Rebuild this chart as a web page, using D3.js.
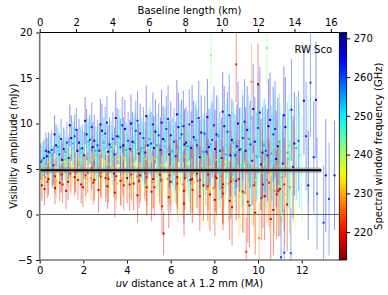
<!DOCTYPE html>
<html>
<head>
<meta charset="utf-8">
<script src="https://cdn.jsdelivr.net/npm/d3@7"></script>
<style>
  body { margin: 0; background: #fff; }
  svg text { font-family: "DejaVu Sans", sans-serif; }
</style>
</head>
<body>
<svg id="chart" width="388" height="295"></svg>
<script>
// spectral windows (GHz) and their visibilities: [uv distance (Mlambda), amplitude (mJy), 1-sigma error]
const spwFreqs = [216, 218, 221, 228, 231, 234, 243, 246, 249, 253, 260, 262, 265, 267]

const spw216 = [[0.1,3.2,1.7],[0.4,3.9,1.8],[0.7,2.9,1.8],[1.0,4.4,1.9],[1.3,3.6,2.0],[1.6,4.1,2.0],[1.9,3.3,2.1],[2.2,4.6,2.2],[2.5,3.8,2.3],[2.8,4.2,2.4],[3.1,3.1,2.5],[3.4,4.5,2.6],[3.7,3.7,2.7],[4.0,4.0,2.8],[4.3,3.4,2.9],[4.6,4.3,3.0],[4.9,3.0,3.1],[5.2,3.9,3.2],[5.5,4.4,3.3],[5.67,-2.1,2.4],[6.0,3.6,3.4],[6.3,4.1,3.5],[6.6,2.6,3.6],[6.9,3.8,3.7],[7.2,4.5,3.8],[7.5,3.2,3.9],[7.8,2.2,4.0],[8.1,4.0,4.1],[8.4,3.3,4.2],[8.7,1.5,4.3],[9.0,3.7,4.4],[9.3,2.5,4.5],[9.6,1.0,4.6],[10.0,14.3,4.5],[10.3,2.0,4.8],[10.7,0.5,5.0],[11.0,2.8,5.2]]
const spw218 = [[0.22,2.8,1.8],[0.58,4.9,1.9],[0.92,3.5,2.0],[1.21,2.6,2.0],[1.63,4.7,2.2],[1.98,3.0,2.2],[2.37,5.1,2.4],[2.69,2.7,2.5],[3.02,4.0,2.6],[3.44,2.4,2.7],[3.81,4.9,2.8],[4.12,3.3,2.9],[4.48,2.1,3.0],[4.83,4.6,3.1],[5.12,2.5,3.2],[5.58,3.8,3.3],[5.91,1.9,3.4],[6.28,4.7,3.5],[6.61,1.2,3.6],[6.98,3.9,3.7],[7.33,2.0,3.8],[7.71,4.4,3.9],[8.02,1.6,4.0],[8.38,3.0,4.1],[8.81,0.8,4.2],[9.12,3.9,4.3],[9.53,1.4,4.5],[9.87,0.2,4.6],[10.22,3.3,4.8],[10.58,-0.5,4.9],[10.93,2.6,5.0],[11.33,1.1,5.2]]
const spw221 = [[0.35,3.6,1.8],[0.7,4.2,1.9],[1.05,3.3,2.0],[1.4,4.5,2.1],[1.75,3.8,2.2],[2.1,4.3,2.3],[2.45,3.5,2.4],[2.8,4.6,2.5],[3.15,3.9,2.6],[3.5,4.2,2.7],[3.85,3.2,2.8],[4.2,4.4,2.9],[4.55,3.7,3.0],[4.9,4.1,3.1],[5.25,3.0,3.2],[5.6,0.9,3.0],[5.95,4.3,3.3],[6.3,3.4,3.4],[6.65,4.0,3.5],[7.0,2.7,3.6],[7.35,3.8,3.7],[7.7,3.1,3.8],[8.05,4.2,3.9],[8.4,2.3,4.0],[8.75,3.6,4.1],[9.0,16.5,4.2],[9.46,-4.1,3.8],[9.8,3.2,4.5],[10.15,1.8,4.6],[10.5,3.5,4.8],[10.85,2.2,4.9],[11.2,3.3,5.1]]
const spw228 = [[0.25,4.1,1.8],[0.6,4.8,1.9],[0.95,4.3,2.0],[1.3,5.2,2.1],[1.65,4.5,2.2],[2.0,5.0,2.3],[2.35,4.0,2.4],[2.7,4.9,2.5],[3.05,4.4,2.6],[3.4,5.3,2.7],[3.75,3.8,2.8],[4.1,4.7,2.9],[4.45,4.2,3.0],[4.8,5.1,3.1],[5.15,3.6,3.2],[5.5,4.6,3.3],[5.85,3.9,3.4],[6.2,4.8,3.5],[6.55,3.3,3.6],[6.9,4.4,3.7],[7.25,3.7,3.8],[7.6,4.9,3.9],[7.95,2.9,4.0],[8.3,4.2,4.1],[8.65,3.4,4.2],[9.0,4.7,4.3],[9.35,2.4,4.4],[9.7,14.6,4.2],[10.05,-2.6,4.0],[10.4,3.8,4.7],[10.75,2.6,4.8],[11.1,4.1,5.0],[11.45,3.0,5.2]]
const spw231 = [[0.08,4.0,1.8],[0.41,5.8,1.9],[0.77,3.7,2.0],[1.12,6.0,2.1],[1.44,4.2,2.2],[1.82,5.6,2.3],[2.12,3.9,2.4],[2.48,6.2,2.5],[2.83,4.3,2.6],[3.18,5.5,2.7],[3.53,3.4,2.8],[3.88,6.0,2.9],[4.23,4.0,3.0],[4.58,5.6,3.1],[4.93,3.2,3.2],[5.28,6.1,3.3],[5.63,3.8,3.4],[5.98,5.2,3.5],[6.33,2.8,3.6],[6.68,6.3,3.7],[7.03,3.5,3.8],[7.38,5.4,3.9],[7.73,2.5,4.0],[8.08,6.0,4.1],[8.43,3.1,4.2],[8.78,4.9,4.3],[9.13,2.0,4.4],[9.48,5.7,4.6],[9.83,1.5,4.7],[10.18,4.6,4.8],[10.53,2.9,5.0],[10.88,5.3,5.1],[11.23,2.2,5.3],[11.62,4.7,5.5]]
const spw234 = [[0.1,4.6,1.8],[0.45,5.4,1.9],[0.8,4.9,2.0],[1.15,5.8,2.1],[1.5,5.1,2.2],[1.85,6.0,2.4],[2.2,5.3,2.5],[2.55,4.7,2.6],[2.9,5.7,2.7],[3.25,5.0,2.8],[3.6,6.1,2.9],[3.95,4.5,3.0],[4.3,5.5,3.1],[4.65,4.9,3.2],[5.0,5.9,3.3],[5.35,4.3,3.4],[5.7,5.4,3.5],[6.05,4.8,3.6],[6.4,3.9,3.7],[6.75,5.6,3.8],[7.1,4.6,3.9],[7.45,2.8,4.0],[7.8,5.2,4.1],[8.15,3.6,4.2],[8.5,5.8,4.3],[8.85,4.1,4.4],[9.2,2.9,4.5],[9.55,5.0,4.7],[9.9,3.8,4.8],[10.25,5.5,4.9],[10.6,4.4,5.1],[10.95,3.1,5.2],[11.3,4.8,5.4],[11.7,3.9,5.6]]
const spw243 = [[0.3,5.3,1.9],[0.65,6.2,2.0],[1.0,5.7,2.1],[1.35,6.6,2.3],[1.7,5.9,2.4],[2.05,7.4,2.5],[2.4,6.0,2.6],[2.75,6.8,2.7],[3.1,5.5,2.8],[3.45,7.5,2.9],[3.8,6.3,3.0],[4.15,5.0,3.1],[4.5,6.9,3.2],[4.85,6.1,3.3],[5.2,7.6,3.4],[5.55,5.4,3.5],[5.9,6.7,3.6],[6.25,4.6,3.7],[6.6,7.3,3.8],[6.95,3.0,3.9],[7.3,6.4,4.0],[7.65,5.2,4.1],[7.85,17.5,3.2],[8.3,6.0,4.3],[8.65,4.3,4.4],[9.0,7.1,4.5],[9.35,5.6,4.6],[9.7,3.5,4.8],[10.05,6.8,4.9],[10.4,18.3,4.0],[10.75,7.4,5.2],[11.1,5.3,5.4],[11.5,6.4,5.6],[12.0,5.0,5.8]]
const spw246 = [[0.18,6.6,1.9],[0.53,5.2,2.0],[0.88,7.8,2.1],[1.23,5.6,2.2],[1.58,8.1,2.3],[1.93,5.9,2.4],[2.28,8.4,2.6],[2.63,5.7,2.7],[2.98,8.0,2.8],[3.33,6.1,2.9],[3.68,8.7,3.0],[4.03,5.8,3.1],[4.38,8.3,3.2],[4.73,6.4,3.3],[5.08,9.0,3.4],[5.43,5.5,3.5],[5.78,8.2,3.6],[6.13,6.0,3.7],[6.48,8.9,3.8],[6.83,5.3,3.9],[7.18,8.6,4.0],[7.53,6.2,4.1],[7.88,9.2,4.2],[8.23,4.9,4.3],[8.58,8.4,4.4],[8.93,5.7,4.5],[9.28,9.0,4.7],[9.63,5.0,4.8],[9.98,8.1,4.9],[10.33,5.8,5.1],[10.68,8.9,5.2],[11.03,4.6,5.3],[11.42,7.6,5.5]]
const spw249 = [[0.15,5.6,1.9],[0.5,6.4,2.0],[0.85,7.0,2.1],[1.2,6.1,2.2],[1.55,7.3,2.3],[1.9,6.8,2.5],[2.25,7.6,2.6],[2.6,6.5,2.7],[2.95,7.2,2.8],[3.3,6.9,2.9],[3.65,7.8,3.0],[4.0,6.6,3.1],[4.35,7.4,3.2],[4.7,6.9,3.3],[5.05,7.7,3.4],[5.4,6.3,3.5],[5.75,7.5,3.6],[6.1,6.8,3.7],[6.45,7.2,3.8],[6.8,6.0,3.9],[7.15,7.9,4.0],[7.5,6.4,4.1],[7.85,7.1,4.2],[8.2,5.8,4.3],[8.55,7.6,4.4],[8.9,6.7,4.5],[9.25,5.4,4.6],[9.6,7.3,4.7],[9.95,6.2,4.9],[10.3,7.8,5.0],[10.65,5.9,5.1],[11.0,6.9,5.3],[11.4,6.1,5.5],[11.9,6.5,5.7],[12.3,7.2,5.9]]
const spw253 = [[0.12,6.0,2.0],[0.47,6.8,2.1],[0.82,7.4,2.2],[1.17,6.9,2.3],[1.52,7.8,2.4],[1.87,7.2,2.5],[2.22,8.0,2.6],[2.57,7.0,2.7],[2.92,7.9,2.8],[3.27,7.4,2.9],[3.62,8.5,3.0],[3.97,7.1,3.1],[4.32,7.9,3.2],[4.67,7.3,3.3],[5.02,8.3,3.4],[5.37,7.6,3.5],[5.72,8.1,3.6],[6.07,7.0,3.7],[6.42,8.4,3.8],[6.77,7.5,3.9],[7.12,8.2,4.0],[7.47,6.9,4.1],[7.82,7.7,4.2],[8.17,8.6,4.3],[8.52,6.6,4.4],[8.87,7.9,4.5],[9.22,7.2,4.6],[9.57,8.3,4.8],[9.92,6.4,4.9],[10.27,7.6,5.0],[10.62,6.7,5.2],[10.97,8.0,5.3],[11.35,6.8,5.5],[11.75,7.3,5.7]]
const spw260 = [[0.2,6.2,2.0],[0.55,7.1,2.1],[0.9,6.6,2.2],[1.25,7.9,2.3],[1.6,8.6,2.4],[1.95,7.3,2.6],[2.3,8.2,2.7],[2.65,7.6,2.8],[3.0,8.9,2.9],[3.35,8.3,3.0],[3.7,7.4,3.1],[4.05,8.1,3.2],[4.4,9.2,3.3],[4.75,8.4,3.4],[5.1,7.8,3.5],[5.45,8.7,3.5],[5.8,9.4,3.6],[6.15,8.0,3.7],[6.5,8.8,3.8],[6.85,9.9,3.9],[7.2,7.6,4.0],[7.55,8.9,4.1],[7.9,8.2,4.2],[8.25,7.0,4.3],[8.6,9.1,4.4],[8.95,6.5,4.5],[9.3,8.4,4.7],[9.65,7.7,4.8],[10.0,9.5,5.0],[10.35,7.0,5.1],[10.7,8.8,5.2],[11.05,-4.7,4.5],[11.2,-4.2,4.8],[11.5,-4.25,5.0],[11.85,8.1,5.5],[12.4,14.5,6.0],[12.7,2.3,6.2],[13.0,-0.9,6.3],[13.25,1.7,6.2]]
const spw262 = [[0.28,7.0,2.0],[0.63,5.4,2.1],[0.98,8.3,2.2],[1.33,6.2,2.3],[1.68,9.3,2.4],[2.03,6.5,2.6],[2.38,9.6,2.7],[2.73,7.0,2.8],[3.08,10.1,2.9],[3.43,6.6,3.0],[3.78,9.8,3.1],[4.13,7.2,3.2],[4.48,10.3,3.3],[4.83,6.8,3.4],[5.18,9.9,3.5],[5.53,7.1,3.6],[5.88,10.5,3.7],[6.23,6.4,3.8],[6.58,9.7,3.9],[6.93,7.3,4.0],[7.28,10.6,4.1],[7.63,6.9,4.2],[7.98,9.8,4.3],[8.33,6.2,4.4],[8.68,10.9,4.5],[9.03,7.5,4.6],[9.38,10.2,4.7],[9.73,5.9,4.9],[10.08,11.2,5.0],[10.43,6.5,5.1],[10.78,9.4,5.3],[11.13,5.6,5.4],[11.53,11.5,5.6],[12.2,8.6,6.0],[12.55,6.3,6.2]]
const spw265 = [[0.05,5.8,2.0],[0.4,6.9,2.1],[0.75,7.6,2.3],[1.1,7.2,2.4],[1.45,8.4,2.5],[1.8,7.9,2.6],[2.15,8.8,2.8],[2.5,8.1,2.9],[2.85,9.2,3.0],[3.2,7.7,3.0],[3.55,8.6,3.1],[3.9,9.4,3.2],[4.25,8.0,3.3],[4.6,8.9,3.3],[4.95,7.6,3.4],[5.3,9.1,3.5],[5.65,8.3,3.6],[6.0,8.7,3.7],[6.35,9.6,3.8],[6.7,7.9,3.9],[7.05,8.5,4.0],[7.4,9.0,4.1],[7.75,7.4,4.2],[8.1,8.8,4.3],[8.45,9.7,4.4],[8.8,8.2,4.5],[9.15,7.1,4.6],[9.5,9.3,4.8],[9.85,8.0,4.9],[10.2,6.8,5.0],[10.55,10.4,5.2],[10.9,7.5,5.3],[11.25,9.6,5.5],[11.6,5.2,5.6],[12.1,12.5,6.0],[12.65,12.6,6.4],[13.1,4.3,6.2],[13.5,4.3,6.0]]
const spw267 = [[0.33,6.4,2.0],[0.68,8.8,2.1],[1.03,6.0,2.2],[1.38,9.8,2.3],[1.73,7.0,2.4],[2.08,10.3,2.6],[2.43,7.4,2.7],[2.78,9.9,2.8],[3.13,6.9,2.9],[3.48,10.6,3.0],[3.83,7.6,3.1],[4.18,10.0,3.2],[4.53,6.7,3.3],[4.88,10.8,3.4],[5.23,7.3,3.5],[5.58,10.1,3.6],[5.93,6.6,3.7],[6.28,11.0,3.8],[6.63,7.7,3.9],[6.98,10.2,4.0],[7.33,6.3,4.1],[7.68,10.7,4.2],[8.03,7.2,4.3],[8.38,11.3,4.4],[8.73,6.5,4.5],[9.08,10.0,4.6],[9.43,7.0,4.8],[9.78,11.6,4.9],[10.13,5.5,5.0],[10.48,9.7,5.2],[10.83,6.1,5.3],[11.18,10.9,5.4],[11.66,7.8,5.7],[12.3,3.2,6.0]]

const spwData = [spw216, spw218, spw221, spw228, spw231, spw234, spw243, spw246, spw249, spw253, spw260, spw262, spw265, spw267]

// fitted point-source model: amplitude and its band, drawn over uv range
const modelUv = [0, 12.9]
const modelAmp = 4.86
const modelBand = [4.55, 5.17]

const yTicks = [-5, 0, 5, 10, 15, 20]
const xTicks = [0, 2, 4, 6, 8, 10, 12]
const kmTicks = [0, 2, 4, 6, 8, 10, 12, 14, 16]
const cbTicks = [220, 230, 240, 250, 260, 270]
const lambdaMm = 1.2

const svg = d3.select("#chart")
const mLeft = 39.7, mRight = 339.3, mTop = 32.5, mBottom = 260

const x = d3.scaleLinear().domain([0, 13.72]).range([mLeft, mRight])
const y = d3.scaleLinear().domain([-5, 20]).range([mBottom, mTop])
const xKm = d3.scaleLinear().domain([0, 13.72 * lambdaMm]).range([mLeft, mRight])

// matplotlib jet, reversed
function jet (t) {
  const c = v => Math.max(0, Math.min(1, v))
  return d3.rgb(255 * c(1.5 - Math.abs(4 * t - 3)), 255 * c(1.5 - Math.abs(4 * t - 2)), 255 * c(1.5 - Math.abs(4 * t - 1)))
}
const colour = d3.scaleSequential(t => jet(1 - t)).domain([212.8, 271.5])

const plot = svg.append("g")

// zero line
plot.append("line")
  .attr("x1", mLeft).attr("x2", mRight)
  .attr("y1", y(0)).attr("y2", y(0))
  .style("stroke", "#555").style("stroke-width", 0.9)

// error bars
spwData.forEach((pts, i) => {
  plot.append("g").selectAll("line")
    .data(pts)
    .enter().append("line")
    .attr("x1", d => x(d[0])).attr("x2", d => x(d[0]))
    .attr("y1", d => y(Math.max(-5, d[1] - d[2]))).attr("y2", d => y(Math.min(20, d[1] + d[2])))
    .style("stroke", colour(spwFreqs[i]))
    .style("stroke-opacity", 0.4)
    .style("stroke-width", 1.1)
})

// points
spwData.forEach((pts, i) => {
  plot.append("g").selectAll("rect")
    .data(pts)
    .enter().append("rect")
    .attr("x", d => x(d[0]) - 1).attr("y", d => y(d[1]) - 1)
    .attr("width", 2).attr("height", 2)
    .style("fill", colour(spwFreqs[i]))
})

// model
plot.append("rect")
  .attr("x", x(modelUv[0])).attr("width", x(modelUv[1]) - x(modelUv[0]))
  .attr("y", y(modelBand[1])).attr("height", y(modelBand[0]) - y(modelBand[1]))
  .style("fill", "#999").style("fill-opacity", 0.6)
plot.append("line")
  .attr("x1", x(modelUv[0])).attr("x2", x(modelUv[1]))
  .attr("y1", y(modelAmp)).attr("y2", y(modelAmp))
  .style("stroke", "black").style("stroke-width", 2)

// axes
const axisStyle = g => {
  g.selectAll("text").style("font-size", "10px").style("font-family", "DejaVu Sans").attr("fill", "#000")
  g.selectAll("line").style("stroke", "#000")
  g.select(".domain").remove()
}
svg.append("g").attr("transform", `translate(0,${mBottom})`)
  .call(d3.axisBottom(x).tickValues(xTicks).tickSize(3.5).tickPadding(3.5).tickFormat(d3.format("d")))
  .call(axisStyle)
svg.append("g").attr("transform", `translate(${mLeft},0)`)
  .call(d3.axisLeft(y).tickValues(yTicks).tickSize(3.5).tickPadding(3.5).tickFormat(d => d < 0 ? "\u2212" + Math.abs(d) : d))
  .call(axisStyle)
svg.append("g").attr("transform", `translate(0,${mTop})`)
  .call(d3.axisTop(xKm).tickValues(kmTicks).tickSize(3.5).tickPadding(3.5).tickFormat(d3.format("d")))
  .call(axisStyle)

// spines
svg.append("line").attr("x1", mLeft).attr("x2", mRight).attr("y1", mTop).attr("y2", mTop).style("stroke", "#000").style("stroke-width", 1)
svg.append("line").attr("x1", mLeft).attr("x2", mRight).attr("y1", mBottom).attr("y2", mBottom).style("stroke", "#777").style("stroke-width", 1.6)
svg.append("line").attr("x1", mLeft).attr("x2", mLeft).attr("y1", mTop).attr("y2", mBottom).style("stroke", "#777").style("stroke-width", 1.6)

// colourbar
const cbX = mRight, cbW = 7.4
const cbY = d3.scaleLinear().domain(colour.domain()).range([mBottom, mTop])
const grad = svg.append("defs").append("linearGradient")
  .attr("id", "cbgrad").attr("x1", 0).attr("x2", 0).attr("y1", 1).attr("y2", 0)
d3.range(0, 1.0001, 0.05).forEach(t => {
  grad.append("stop").attr("offset", t).attr("stop-color", jet(1 - t))
})
svg.append("rect")
  .attr("x", cbX).attr("y", mTop).attr("width", cbW).attr("height", mBottom - mTop)
  .style("fill", "url(#cbgrad)").style("stroke", "#000").style("stroke-width", 0.8)
svg.append("g").attr("transform", `translate(${cbX + cbW},0)`)
  .call(d3.axisRight(cbY).tickValues(cbTicks).tickSize(3.5).tickPadding(3.5))
  .call(axisStyle)

// labels
svg.append("text")
  .attr("transform", `translate(13,${(mTop + mBottom) / 2}) rotate(-90)`)
  .attr("text-anchor", "middle").attr("dy", "0.35em")
  .style("font-size", "10px")
  .text("Visibility amplitude (mJy)")

const xl = svg.append("text")
  .attr("x", (mLeft + mRight) / 2).attr("y", 287)
  .attr("text-anchor", "middle")
  .style("font-size", "10px")
xl.append("tspan").style("font-style", "italic").text("uv")
xl.append("tspan").text(" distance at ")
xl.append("tspan").style("font-style", "italic").text("\u03bb")
xl.append("tspan").text(" 1.2 mm (M")
xl.append("tspan").style("font-style", "italic").text("\u03bb")
xl.append("tspan").text(")")

svg.append("text")
  .attr("x", (mLeft + mRight) / 2).attr("y", 14)
  .attr("text-anchor", "middle")
  .style("font-size", "10px")
  .text("Baseline length (km)")

svg.append("text")
  .attr("transform", `translate(378,${(mTop + mBottom) / 2}) rotate(-90)`)
  .attr("text-anchor", "middle").attr("dy", "0.35em")
  .style("font-size", "10px")
  .text("Spectral window frequency (GHz)")

svg.append("text")
  .attr("x", 332).attr("y", 53)
  .attr("text-anchor", "end")
  .style("font-size", "10px")
  .text("RW Sco")
</script>
</body>
</html>
